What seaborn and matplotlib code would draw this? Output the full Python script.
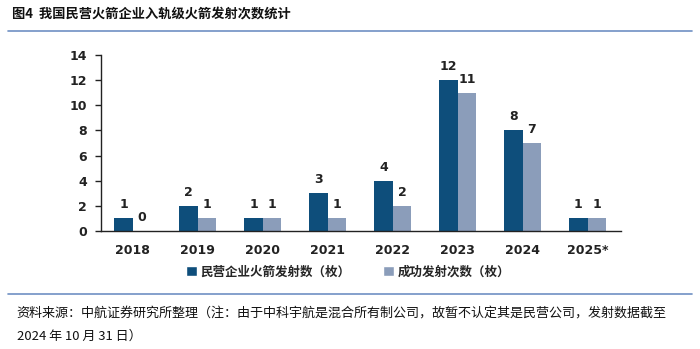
import matplotlib
matplotlib.use("Agg")
import matplotlib.pyplot as plt
import seaborn as sns
import pandas as pd
from matplotlib.lines import Line2D
from matplotlib.patches import Patch

years = ["2018", "2019", "2020", "2021", "2022", "2023", "2024", "2025*"]
launches = [1, 2, 1, 3, 4, 12, 8, 1]
successes = [0, 1, 1, 1, 2, 11, 7, 1]
series_names = ["民营企业火箭发射数（枚）", "成功发射次数（枚）"]
colors = ["#0e4e7b", "#8b9dba"]
yticks = [0, 2, 4, 6, 8, 10, 12, 14]

sns.set_theme(style="white")
plt.rcParams["font.family"] = ["Noto Sans CJK SC", "DejaVu Sans"]

df = pd.DataFrame({
    "year": years * 2,
    "value": launches + successes,
    "series": [series_names[0]] * len(years) + [series_names[1]] * len(years),
})

fig = plt.figure(figsize=(7.0, 3.49), dpi=100)
ax = fig.add_axes([0.1443, 0.3381, 0.7424, 0.5043])

sns.barplot(data=df, x="year", y="value", hue="series", palette=colors,
            width=0.57, ax=ax, legend=False, saturation=1, linewidth=0)

for cont in ax.containers:
    ax.bar_label(cont, fmt="%d", padding=5, fontsize=9, fontweight="bold",
                 color="#222222", family="DejaVu Sans")

ax.set_ylim(0, 14)
ax.set_yticks(yticks)
ax.set_xlim(-0.49, 7.51)
ax.set_xlabel("")
ax.set_ylabel("")
for s in ["top", "right"]:
    ax.spines[s].set_visible(False)
for s in ["left", "bottom"]:
    ax.spines[s].set_color("#222222")
    ax.spines[s].set_linewidth(1.0)
ax.tick_params(axis="y", which="both", left=True, length=4, width=1, color="#222222",
               labelsize=9, pad=6)
ax.tick_params(axis="x", bottom=False, labelsize=9, pad=3)
for lab in ax.get_yticklabels() + ax.get_xticklabels():
    lab.set_fontweight("bold")
    lab.set_family("DejaVu Sans")
    lab.set_color("#222222")

handles = [Patch(facecolor=colors[0]), Patch(facecolor=colors[1])]
fig.legend(handles, series_names, loc="center", bbox_to_anchor=(0.497, 0.221), ncol=2,
           frameon=False, prop={"size": 9, "weight": "bold"}, handlelength=0.85,
           handleheight=0.85, handletextpad=0.3, columnspacing=2.6)

fig.text(0.017, 0.962, "图4  我国民营火箭企业入轨级火箭发射次数统计", fontsize=9.5,
         fontweight="bold", va="center", ha="left", color="#111111")
fig.add_artist(Line2D([0.012, 0.988], [1 - 31 / 349, 1 - 31 / 349], color="#6f90c4", lw=1.2))
fig.add_artist(Line2D([0.012, 0.988], [1 - 294 / 349, 1 - 294 / 349], color="#6f90c4", lw=1.2))
fig.text(0.024, 1 - 313 / 349,
         "资料来源：中航证券研究所整理（注：由于中科宇航是混合所有制公司，故暂不认定其是民营公司，发射数据截至",
         fontsize=9.4, va="center", ha="left", color="#111111")
fig.text(0.024, 1 - 336 / 349, "2024 年 10 月 31 日）", fontsize=9.4, va="center",
         ha="left", color="#111111")

fig.savefig("out.png", dpi=100)
